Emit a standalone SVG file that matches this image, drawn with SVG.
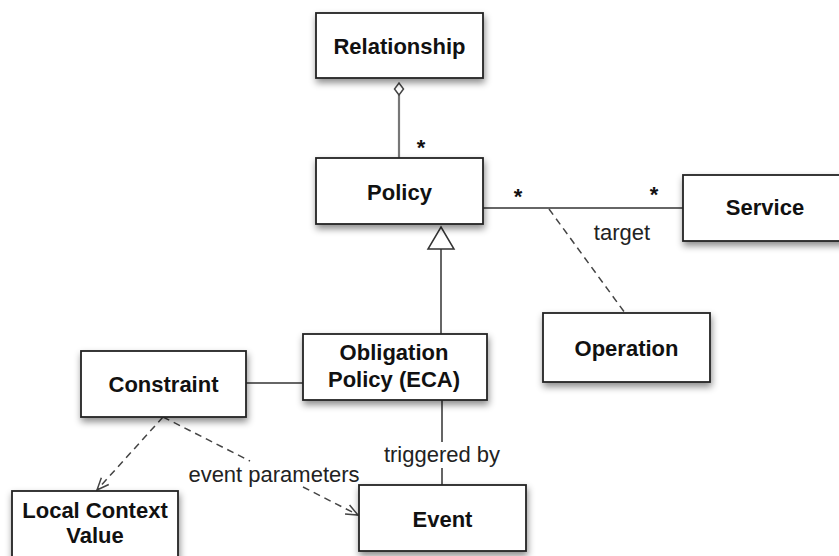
<svg xmlns="http://www.w3.org/2000/svg" width="839" height="556" viewBox="0 0 839 556">
  <style>
    .box { fill: #ffffff; stroke: #222222; stroke-width: 1.8; filter: url(#shadow); }
    .name { font-family: "Liberation Sans", Arial, sans-serif; font-weight: bold; font-size: 22px; fill: #111111; text-anchor: middle; }
    .label { font-family: "Liberation Sans", Arial, sans-serif; font-size: 22px; fill: #222222; text-anchor: middle; }
    .mult { font-family: "Liberation Sans", Arial, sans-serif; font-weight: bold; font-size: 22px; fill: #111111; text-anchor: middle; }
    .assoc { fill: none; stroke: #333333; stroke-width: 1.5; }
    .agg { fill: none; stroke: #777777; stroke-width: 2.2; }
    .dep { fill: none; stroke: #444444; stroke-width: 1.5; stroke-dasharray: 7 5; }
  </style>
  <defs>
    <filter id="shadow" x="-20%" y="-20%" width="150%" height="160%">
      <feDropShadow dx="1" dy="4" stdDeviation="3.5" flood-color="#000000" flood-opacity="0.45"/>
    </filter>
    <marker id="open-arrow" viewBox="0 0 14 12" refX="13" refY="6" markerWidth="14" markerHeight="12" markerUnits="userSpaceOnUse" orient="auto">
      <path d="M1,1 L13,6 L1,11" fill="none" stroke="#444444" stroke-width="1.5"/>
    </marker>
  </defs>

  <!-- connectors -->
  <g id="connectors">
    <!-- aggregation: Relationship <>— Policy -->
    <line class="agg" x1="399" y1="95" x2="399" y2="158"/>
    <path d="M399,83 L403.5,89 L399,95 L394.5,89 Z" fill="#ffffff" stroke="#444444" stroke-width="1.5"/>
    <text class="mult" x="421" y="155">*</text>

    <!-- association: Policy — Service -->
    <line class="assoc" x1="483" y1="208" x2="683" y2="208"/>
    <text class="mult" x="518" y="204">*</text>
    <text class="mult" x="654" y="202">*</text>
    <text class="label" x="622" y="240">target</text>

    <!-- association class link to Operation -->
    <line class="dep" x1="549" y1="209" x2="625" y2="313"/>

    <!-- generalization: Obligation Policy -> Policy -->
    <line class="assoc" x1="441" y1="249" x2="441" y2="334"/>
    <path d="M441,227 L454,249 L428,249 Z" fill="#ffffff" stroke="#333333" stroke-width="1.5"/>

    <!-- Constraint — Obligation Policy -->
    <line class="assoc" x1="246" y1="383" x2="303" y2="383"/>

    <!-- triggered by -->
    <path class="assoc" d="M442,400 L442,442 M442,468 L442,485"/>
    <text class="label" x="442" y="462">triggered by</text>

    <!-- dependencies from Constraint -->
    <line class="dep" x1="163" y1="417" x2="97" y2="490" marker-end="url(#open-arrow)"/>
    <path class="dep" d="M163,417 L250,461 M303,487 L358,515" marker-end="url(#open-arrow)"/>
    <text class="label" x="274" y="482">event parameters</text>
  </g>

  <!-- nodes -->
  <g id="relationship">
    <rect class="box" x="316" y="13" width="167" height="65"/>
    <text class="name" x="399.5" y="54">Relationship</text>
  </g>

  <g id="policy">
    <rect class="box" x="316" y="158" width="167" height="66"/>
    <text class="name" x="399.5" y="200">Policy</text>
  </g>

  <g id="service">
    <rect class="box" x="683" y="175" width="165" height="66"/>
    <text class="name" x="765" y="215">Service</text>
  </g>

  <g id="operation">
    <rect class="box" x="543" y="313" width="167" height="69"/>
    <text class="name" x="626.5" y="356">Operation</text>
  </g>

  <g id="obligation-policy">
    <rect class="box" x="303" y="334" width="184" height="66"/>
    <text class="name" x="394" y="360">Obligation</text>
    <text class="name" x="394" y="387">Policy (ECA)</text>
  </g>

  <g id="constraint">
    <rect class="box" x="81" y="351" width="165" height="66"/>
    <text class="name" x="163.5" y="392">Constraint</text>
  </g>

  <g id="local-context-value">
    <rect class="box" x="12" y="491" width="166" height="75"/>
    <text class="name" x="95" y="518">Local Context</text>
    <text class="name" x="95" y="543">Value</text>
  </g>

  <g id="event">
    <rect class="box" x="359" y="485" width="167" height="66"/>
    <text class="name" x="442.5" y="527">Event</text>
  </g>
</svg>
